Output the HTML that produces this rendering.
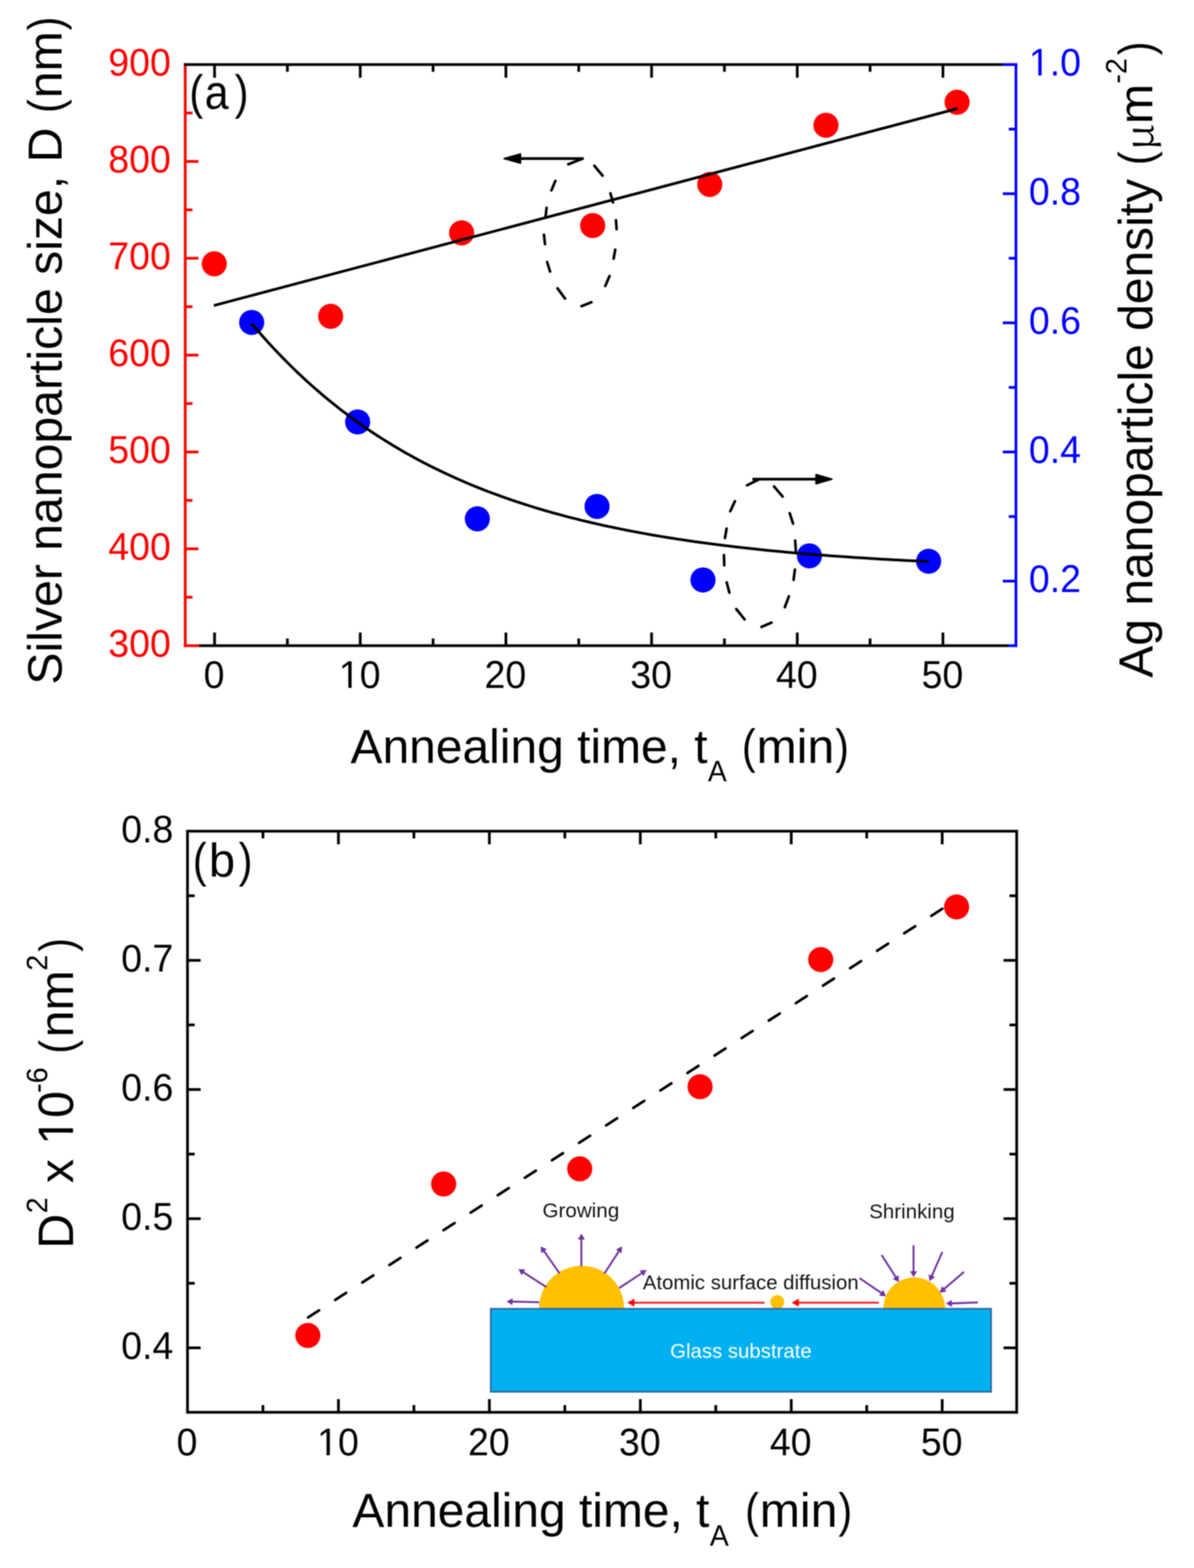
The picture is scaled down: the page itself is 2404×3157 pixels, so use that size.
<!DOCTYPE html>
<html><head><meta charset="utf-8"><title>Silver nanoparticle size and density vs annealing time</title>
<style>html,body{margin:0;padding:0;background:#fff;}svg{display:block;filter:blur(1px);}</style></head>
<body><svg width="2404" height="3157" viewBox="0 0 2404 3157">
<defs><clipPath id="c1_1"><rect x="-1.00" y="-90.60" width="43.99" height="83.36"/><rect x="18.99" y="-90.60" width="6.67" height="113.25"/><rect x="40.99" y="-90.60" width="22.98" height="120.80"/><rect x="61.97" y="-90.60" width="43.99" height="120.80"/></clipPath><clipPath id="c1_2"><rect x="-42.99" y="-90.60" width="43.99" height="83.36"/><rect x="-23.00" y="-90.60" width="6.67" height="113.25"/><rect x="-1.00" y="-90.60" width="43.99" height="120.80"/></clipPath><clipPath id="c1_3"><rect x="-42.99" y="-90.60" width="43.99" height="83.36"/><rect x="-23.00" y="-90.60" width="6.67" height="113.25"/><rect x="-1.00" y="-90.60" width="43.99" height="120.80"/></clipPath><clipPath id="c1_4"><rect x="-1.00" y="-116.40" width="55.95" height="107.55"/><rect x="24.39" y="-116.40" width="8.57" height="145.50"/><rect x="52.95" y="-116.40" width="55.95" height="155.20"/></clipPath></defs>
<rect width="2404" height="3157" fill="#fff"/>
<line x1="432.00" y1="1300.00" x2="432.00" y2="1273.50" stroke="#000000" stroke-width="5.5" />
<line x1="432.00" y1="130.00" x2="432.00" y2="156.50" stroke="#000000" stroke-width="5.5" />
<line x1="578.65" y1="1300.00" x2="578.65" y2="1285.50" stroke="#000000" stroke-width="5.5" />
<line x1="578.65" y1="130.00" x2="578.65" y2="144.50" stroke="#000000" stroke-width="5.5" />
<line x1="725.30" y1="1300.00" x2="725.30" y2="1273.50" stroke="#000000" stroke-width="5.5" />
<line x1="725.30" y1="130.00" x2="725.30" y2="156.50" stroke="#000000" stroke-width="5.5" />
<line x1="871.95" y1="1300.00" x2="871.95" y2="1285.50" stroke="#000000" stroke-width="5.5" />
<line x1="871.95" y1="130.00" x2="871.95" y2="144.50" stroke="#000000" stroke-width="5.5" />
<line x1="1018.60" y1="1300.00" x2="1018.60" y2="1273.50" stroke="#000000" stroke-width="5.5" />
<line x1="1018.60" y1="130.00" x2="1018.60" y2="156.50" stroke="#000000" stroke-width="5.5" />
<line x1="1165.25" y1="1300.00" x2="1165.25" y2="1285.50" stroke="#000000" stroke-width="5.5" />
<line x1="1165.25" y1="130.00" x2="1165.25" y2="144.50" stroke="#000000" stroke-width="5.5" />
<line x1="1311.90" y1="1300.00" x2="1311.90" y2="1273.50" stroke="#000000" stroke-width="5.5" />
<line x1="1311.90" y1="130.00" x2="1311.90" y2="156.50" stroke="#000000" stroke-width="5.5" />
<line x1="1458.55" y1="1300.00" x2="1458.55" y2="1285.50" stroke="#000000" stroke-width="5.5" />
<line x1="1458.55" y1="130.00" x2="1458.55" y2="144.50" stroke="#000000" stroke-width="5.5" />
<line x1="1605.20" y1="1300.00" x2="1605.20" y2="1273.50" stroke="#000000" stroke-width="5.5" />
<line x1="1605.20" y1="130.00" x2="1605.20" y2="156.50" stroke="#000000" stroke-width="5.5" />
<line x1="1751.85" y1="1300.00" x2="1751.85" y2="1285.50" stroke="#000000" stroke-width="5.5" />
<line x1="1751.85" y1="130.00" x2="1751.85" y2="144.50" stroke="#000000" stroke-width="5.5" />
<line x1="1898.50" y1="1300.00" x2="1898.50" y2="1273.50" stroke="#000000" stroke-width="5.5" />
<line x1="1898.50" y1="130.00" x2="1898.50" y2="156.50" stroke="#000000" stroke-width="5.5" />
<line x1="373.00" y1="1202.50" x2="387.50" y2="1202.50" stroke="#FF0000" stroke-width="5.5" />
<line x1="373.00" y1="1105.00" x2="399.50" y2="1105.00" stroke="#FF0000" stroke-width="5.5" />
<line x1="373.00" y1="1007.50" x2="387.50" y2="1007.50" stroke="#FF0000" stroke-width="5.5" />
<line x1="373.00" y1="910.00" x2="399.50" y2="910.00" stroke="#FF0000" stroke-width="5.5" />
<line x1="373.00" y1="812.50" x2="387.50" y2="812.50" stroke="#FF0000" stroke-width="5.5" />
<line x1="373.00" y1="715.00" x2="399.50" y2="715.00" stroke="#FF0000" stroke-width="5.5" />
<line x1="373.00" y1="617.50" x2="387.50" y2="617.50" stroke="#FF0000" stroke-width="5.5" />
<line x1="373.00" y1="520.00" x2="399.50" y2="520.00" stroke="#FF0000" stroke-width="5.5" />
<line x1="373.00" y1="422.50" x2="387.50" y2="422.50" stroke="#FF0000" stroke-width="5.5" />
<line x1="373.00" y1="325.00" x2="399.50" y2="325.00" stroke="#FF0000" stroke-width="5.5" />
<line x1="373.00" y1="227.50" x2="387.50" y2="227.50" stroke="#FF0000" stroke-width="5.5" />
<line x1="2045.50" y1="1170.00" x2="2019.00" y2="1170.00" stroke="#0000FF" stroke-width="5.5" />
<line x1="2045.50" y1="1040.00" x2="2031.00" y2="1040.00" stroke="#0000FF" stroke-width="5.5" />
<line x1="2045.50" y1="910.00" x2="2019.00" y2="910.00" stroke="#0000FF" stroke-width="5.5" />
<line x1="2045.50" y1="780.00" x2="2031.00" y2="780.00" stroke="#0000FF" stroke-width="5.5" />
<line x1="2045.50" y1="650.00" x2="2019.00" y2="650.00" stroke="#0000FF" stroke-width="5.5" />
<line x1="2045.50" y1="520.00" x2="2031.00" y2="520.00" stroke="#0000FF" stroke-width="5.5" />
<line x1="2045.50" y1="390.00" x2="2019.00" y2="390.00" stroke="#0000FF" stroke-width="5.5" />
<line x1="2045.50" y1="260.00" x2="2031.00" y2="260.00" stroke="#0000FF" stroke-width="5.5" />
<line x1="400.00" y1="1300.00" x2="2031.00" y2="1300.00" stroke="#000000" stroke-width="5.5" />
<line x1="370.00" y1="1300.00" x2="401.00" y2="1300.00" stroke="#FF0000" stroke-width="5.5" />
<line x1="2030.00" y1="1300.00" x2="2048.25" y2="1300.00" stroke="#0000FF" stroke-width="5.5" />
<line x1="2018.00" y1="130.00" x2="2048.25" y2="130.00" stroke="#0000FF" stroke-width="5.5" />
<line x1="373.00" y1="127.25" x2="373.00" y2="1302.75" stroke="#FF0000" stroke-width="5.5" />
<line x1="2045.50" y1="127.25" x2="2045.50" y2="1302.75" stroke="#0000FF" stroke-width="5.5" />
<line x1="370.25" y1="130.00" x2="2019.00" y2="130.00" stroke="#000000" stroke-width="5.5" />
<text transform="translate(344.00,1322.30) scale(1,1.035)" x="-125.97" y="0" font-size="75.5" fill="#FF0000" style="font-family:'Liberation Sans',Arial,sans-serif">300</text>
<text transform="translate(344.00,1127.30) scale(1,1.035)" x="-125.97" y="0" font-size="75.5" fill="#FF0000" style="font-family:'Liberation Sans',Arial,sans-serif">400</text>
<text transform="translate(344.00,932.30) scale(1,1.035)" x="-125.97" y="0" font-size="75.5" fill="#FF0000" style="font-family:'Liberation Sans',Arial,sans-serif">500</text>
<text transform="translate(344.00,737.30) scale(1,1.035)" x="-125.97" y="0" font-size="75.5" fill="#FF0000" style="font-family:'Liberation Sans',Arial,sans-serif">600</text>
<text transform="translate(344.00,542.30) scale(1,1.035)" x="-125.97" y="0" font-size="75.5" fill="#FF0000" style="font-family:'Liberation Sans',Arial,sans-serif">700</text>
<text transform="translate(344.00,347.30) scale(1,1.035)" x="-125.97" y="0" font-size="75.5" fill="#FF0000" style="font-family:'Liberation Sans',Arial,sans-serif">800</text>
<text transform="translate(344.00,152.30) scale(1,1.035)" x="-125.97" y="0" font-size="75.5" fill="#FF0000" style="font-family:'Liberation Sans',Arial,sans-serif">900</text>
<text transform="translate(2071.50,1192.30) scale(1,1.035)" x="0.00" y="0" font-size="75.5" fill="#0000FF" style="font-family:'Liberation Sans',Arial,sans-serif">0.2</text>
<text transform="translate(2071.50,932.30) scale(1,1.035)" x="0.00" y="0" font-size="75.5" fill="#0000FF" style="font-family:'Liberation Sans',Arial,sans-serif">0.4</text>
<text transform="translate(2071.50,672.30) scale(1,1.035)" x="0.00" y="0" font-size="75.5" fill="#0000FF" style="font-family:'Liberation Sans',Arial,sans-serif">0.6</text>
<text transform="translate(2071.50,412.30) scale(1,1.035)" x="0.00" y="0" font-size="75.5" fill="#0000FF" style="font-family:'Liberation Sans',Arial,sans-serif">0.8</text>
<text transform="translate(2071.50,152.30) scale(1,1.035)" x="0.00" y="0" font-size="75.5" fill="#0000FF" style="font-family:'Liberation Sans',Arial,sans-serif" clip-path="url(#c1_1)">1.0</text>
<text transform="translate(431.00,1385.00) scale(1,1.035)" x="-20.99" y="0" font-size="75.5" fill="#000000" style="font-family:'Liberation Sans',Arial,sans-serif">0</text>
<text transform="translate(724.30,1385.00) scale(1,1.035)" x="-41.99" y="0" font-size="75.5" fill="#000000" style="font-family:'Liberation Sans',Arial,sans-serif" clip-path="url(#c1_2)">10</text>
<text transform="translate(1017.60,1385.00) scale(1,1.035)" x="-41.99" y="0" font-size="75.5" fill="#000000" style="font-family:'Liberation Sans',Arial,sans-serif">20</text>
<text transform="translate(1310.90,1385.00) scale(1,1.035)" x="-41.99" y="0" font-size="75.5" fill="#000000" style="font-family:'Liberation Sans',Arial,sans-serif">30</text>
<text transform="translate(1604.20,1385.00) scale(1,1.035)" x="-41.99" y="0" font-size="75.5" fill="#000000" style="font-family:'Liberation Sans',Arial,sans-serif">40</text>
<text transform="translate(1897.50,1385.00) scale(1,1.035)" x="-41.99" y="0" font-size="75.5" fill="#000000" style="font-family:'Liberation Sans',Arial,sans-serif">50</text>
<text transform="translate(124.40,1378.40) rotate(-90)" x="0.00" y="0" font-size="97" fill="#000000" style="font-family:'Liberation Sans',Arial,sans-serif">Silver nanoparticle size, D </text>
<text transform="translate(124.40,227.44) rotate(-90) scale(0.86,0.985)" x="0.00" y="0" font-size="97" fill="#000000" style="font-family:'Liberation Sans',Arial,sans-serif">(</text>
<text transform="translate(124.40,197.78) rotate(-90)" x="0.00" y="0" font-size="97" fill="#000000" style="font-family:'Liberation Sans',Arial,sans-serif">nm</text>
<text transform="translate(124.40,61.15) rotate(-90) scale(0.86,0.985)" x="0.00" y="0" font-size="97" fill="#000000" style="font-family:'Liberation Sans',Arial,sans-serif">)</text>
<text transform="translate(2320.40,1364.39) rotate(-90)" x="0.00" y="0" font-size="96.6" fill="#000000" style="font-family:'Liberation Sans',Arial,sans-serif">Ag nanoparticle density</text>
<text transform="translate(2320.40,332.57) rotate(-90) scale(0.86,0.985)" x="0.00" y="0" font-size="97" fill="#000000" style="font-family:'Liberation Sans',Arial,sans-serif">(</text>
<text transform="translate(2322.40,302.83) rotate(-90) scale(1,0.93)" x="0.00" y="0" font-size="84" fill="#000000" style="font-family:'Noto Serif CJK SC','Liberation Serif',serif">μ</text>
<text transform="translate(2320.40,249.64) rotate(-90)" x="0.00" y="0" font-size="97" fill="#000000" style="font-family:'Liberation Sans',Arial,sans-serif">m</text>
<text transform="translate(2268.00,168.58) rotate(-90) scale(1,1.035)" x="0.00" y="0" font-size="58" fill="#000000" style="font-family:'Liberation Sans',Arial,sans-serif">-2</text>
<text transform="translate(2320.40,111.29) rotate(-90) scale(0.86,0.985)" x="0.00" y="0" font-size="97" fill="#000000" style="font-family:'Liberation Sans',Arial,sans-serif">)</text>
<text transform="translate(705.81,1535.50)" x="0.00" y="0" font-size="96.5" fill="#000000" style="font-family:'Liberation Sans',Arial,sans-serif">Annealing time, t</text>
<text transform="translate(1425.19,1572.60) scale(1,1.04)" x="0.00" y="0" font-size="57" fill="#000000" style="font-family:'Liberation Sans',Arial,sans-serif">A</text>
<text transform="translate(1493.63,1535.50) scale(0.86,0.985)" x="0.00" y="0" font-size="97" fill="#000000" style="font-family:'Liberation Sans',Arial,sans-serif">(</text>
<text transform="translate(1523.29,1535.50)" x="0.00" y="0" font-size="97" fill="#000000" style="font-family:'Liberation Sans',Arial,sans-serif">min</text>
<text transform="translate(1681.47,1535.50) scale(0.86,0.985)" x="0.00" y="0" font-size="97" fill="#000000" style="font-family:'Liberation Sans',Arial,sans-serif">)</text>
<text transform="translate(381.13,218.50) scale(0.86,0.985)" x="0.00" y="0" font-size="97" fill="#000000" style="font-family:'Liberation Sans',Arial,sans-serif">(</text>
<text transform="translate(412.13,218.50) scale(0.9,1)" x="0.00" y="0" font-size="96" fill="#000000" style="font-family:'Liberation Sans',Arial,sans-serif">a</text>
<text transform="translate(472.51,218.50) scale(0.86,0.985)" x="0.00" y="0" font-size="97" fill="#000000" style="font-family:'Liberation Sans',Arial,sans-serif">)</text>
<circle cx="431.40" cy="531.10" r="25.3" fill="#FF0000"/>
<circle cx="665.75" cy="636.90" r="25.3" fill="#FF0000"/>
<circle cx="929.40" cy="468.90" r="25.3" fill="#FF0000"/>
<circle cx="1193.30" cy="454.20" r="25.3" fill="#FF0000"/>
<circle cx="1429.00" cy="371.40" r="25.3" fill="#FF0000"/>
<circle cx="1663.00" cy="252.20" r="25.3" fill="#FF0000"/>
<circle cx="1927.00" cy="205.80" r="25.3" fill="#FF0000"/>
<circle cx="506.70" cy="649.20" r="25.3" fill="#0000FF"/>
<circle cx="720.10" cy="849.50" r="25.3" fill="#0000FF"/>
<circle cx="961.10" cy="1044.60" r="25.3" fill="#0000FF"/>
<circle cx="1202.10" cy="1019.70" r="25.3" fill="#0000FF"/>
<circle cx="1415.40" cy="1167.70" r="25.3" fill="#0000FF"/>
<circle cx="1629.70" cy="1119.20" r="25.3" fill="#0000FF"/>
<circle cx="1869.70" cy="1130.00" r="25.3" fill="#0000FF"/>
<line x1="430.60" y1="615.10" x2="1928.10" y2="218.50" stroke="#000000" stroke-width="5.5" />
<polyline fill="none" stroke="#000" stroke-width="5.5" stroke-linejoin="round" points="506.7,651.4 518.2,664.8 529.6,677.9 541.1,690.6 552.5,703.0 564.0,715.0 575.4,726.7 586.9,738.1 598.3,749.2 609.8,760.0 621.2,770.5 632.7,780.7 644.1,790.6 655.6,800.3 667.0,809.7 678.5,818.8 689.9,827.8 701.4,836.4 712.8,844.9 724.3,853.1 735.7,861.1 747.2,868.9 758.6,876.4 770.1,883.8 781.6,890.9 793.0,897.9 804.5,904.7 815.9,911.3 827.4,917.7 838.8,924.0 850.3,930.1 861.7,936.0 873.2,941.7 884.6,947.3 896.1,952.8 907.5,958.1 919.0,963.3 930.4,968.3 941.9,973.2 953.3,978.0 964.8,982.6 976.2,987.1 987.7,991.5 999.1,995.7 1010.6,999.9 1022.0,1003.9 1033.5,1007.9 1044.9,1011.7 1056.4,1015.4 1067.9,1019.0 1079.3,1022.6 1090.8,1026.0 1102.2,1029.3 1113.7,1032.6 1125.1,1035.7 1136.6,1038.8 1148.0,1041.8 1159.5,1044.7 1170.9,1047.6 1182.4,1050.3 1193.8,1053.0 1205.3,1055.6 1216.7,1058.2 1228.2,1060.6 1239.6,1063.0 1251.1,1065.4 1262.5,1067.7 1274.0,1069.9 1285.4,1072.0 1296.9,1074.1 1308.3,1076.2 1319.8,1078.2 1331.3,1080.1 1342.7,1082.0 1354.2,1083.8 1365.6,1085.6 1377.1,1087.3 1388.5,1089.0 1400.0,1090.7 1411.4,1092.3 1422.9,1093.8 1434.3,1095.3 1445.8,1096.8 1457.2,1098.2 1468.7,1099.6 1480.1,1101.0 1491.6,1102.3 1503.0,1103.6 1514.5,1104.8 1525.9,1106.0 1537.4,1107.2 1548.8,1108.4 1560.3,1109.5 1571.7,1110.6 1583.2,1111.7 1594.6,1112.7 1606.1,1113.7 1617.6,1114.7 1629.0,1115.6 1640.5,1116.6 1651.9,1117.5 1663.4,1118.3 1674.8,1119.2 1686.3,1120.0 1697.7,1120.8 1709.2,1121.6 1720.6,1122.4 1732.1,1123.1 1743.5,1123.8 1755.0,1124.6 1766.4,1125.2 1777.9,1125.9 1789.3,1126.6 1800.8,1127.2 1812.2,1127.8 1823.7,1128.4 1835.1,1129.0 1846.6,1129.5 1858.0,1130.1 1869.5,1130.6"/>
<line x1="1196.69" y1="333.74" x2="1213.31" y2="353.76" stroke="#000000" stroke-width="5.3" stroke-linecap="round"/>
<line x1="1229.03" y1="389.25" x2="1234.27" y2="407.45" stroke="#000000" stroke-width="5.3" stroke-linecap="round"/>
<line x1="1240.19" y1="443.44" x2="1241.51" y2="461.56" stroke="#000000" stroke-width="5.3" stroke-linecap="round"/>
<line x1="1238.73" y1="502.61" x2="1235.47" y2="520.69" stroke="#000000" stroke-width="5.3" stroke-linecap="round"/>
<line x1="1227.25" y1="555.73" x2="1218.55" y2="575.87" stroke="#000000" stroke-width="5.3" stroke-linecap="round"/>
<line x1="1190.84" y1="608.48" x2="1170.76" y2="616.52" stroke="#000000" stroke-width="5.3" stroke-linecap="round"/>
<line x1="1137.63" y1="601.17" x2="1122.37" y2="580.43" stroke="#000000" stroke-width="5.3" stroke-linecap="round"/>
<line x1="1107.52" y1="546.67" x2="1101.58" y2="527.53" stroke="#000000" stroke-width="5.3" stroke-linecap="round"/>
<line x1="1097.23" y1="491.56" x2="1095.27" y2="472.64" stroke="#000000" stroke-width="5.3" stroke-linecap="round"/>
<line x1="1098.60" y1="434.87" x2="1100.50" y2="418.43" stroke="#000000" stroke-width="5.3" stroke-linecap="round"/>
<line x1="1110.22" y1="383.35" x2="1118.18" y2="364.15" stroke="#000000" stroke-width="5.3" stroke-linecap="round"/>
<line x1="1558.43" y1="979.51" x2="1575.77" y2="999.69" stroke="#000000" stroke-width="5.3" stroke-linecap="round"/>
<line x1="1590.01" y1="1033.32" x2="1596.69" y2="1054.18" stroke="#000000" stroke-width="5.3" stroke-linecap="round"/>
<line x1="1600.97" y1="1088.44" x2="1602.33" y2="1109.06" stroke="#000000" stroke-width="5.3" stroke-linecap="round"/>
<line x1="1600.46" y1="1146.83" x2="1597.84" y2="1167.37" stroke="#000000" stroke-width="5.3" stroke-linecap="round"/>
<line x1="1588.27" y1="1200.78" x2="1580.13" y2="1222.52" stroke="#000000" stroke-width="5.3" stroke-linecap="round"/>
<line x1="1553.37" y1="1253.55" x2="1533.23" y2="1262.25" stroke="#000000" stroke-width="5.3" stroke-linecap="round"/>
<line x1="1499.14" y1="1247.13" x2="1482.46" y2="1226.27" stroke="#000000" stroke-width="5.3" stroke-linecap="round"/>
<line x1="1468.53" y1="1193.24" x2="1463.17" y2="1172.56" stroke="#000000" stroke-width="5.3" stroke-linecap="round"/>
<line x1="1458.22" y1="1138.15" x2="1457.58" y2="1117.65" stroke="#000000" stroke-width="5.3" stroke-linecap="round"/>
<line x1="1459.64" y1="1083.19" x2="1462.86" y2="1064.31" stroke="#000000" stroke-width="5.3" stroke-linecap="round"/>
<line x1="1470.32" y1="1029.30" x2="1479.68" y2="1009.10" stroke="#000000" stroke-width="5.3" stroke-linecap="round"/>
<line x1="1144.16" y1="330.73" x2="1173.30" y2="319.20" stroke="#000000" stroke-width="5.3" stroke-linecap="round"/>
<line x1="1504.07" y1="977.11" x2="1526.70" y2="965.80" stroke="#000000" stroke-width="5.3" stroke-linecap="round"/>
<line x1="1173.30" y1="319.20" x2="1040.00" y2="319.20" stroke="#000000" stroke-width="5.5" />
<polygon points="1048,310 1048,328.5 1015,319.2" fill="#000" stroke="#000" stroke-width="3" stroke-linejoin="round"/>
<line x1="1515.00" y1="964.80" x2="1650.00" y2="964.80" stroke="#000000" stroke-width="5.5" />
<polygon points="1643,955.5 1643,974 1675,964.8" fill="#000" stroke="#000" stroke-width="3" stroke-linejoin="round"/>
<line x1="529.45" y1="2843.50" x2="529.45" y2="2829.00" stroke="#000000" stroke-width="5.5" />
<line x1="529.45" y1="1673.50" x2="529.45" y2="1688.00" stroke="#000000" stroke-width="5.5" />
<line x1="681.40" y1="2843.50" x2="681.40" y2="2817.00" stroke="#000000" stroke-width="5.5" />
<line x1="681.40" y1="1673.50" x2="681.40" y2="1700.00" stroke="#000000" stroke-width="5.5" />
<line x1="833.35" y1="2843.50" x2="833.35" y2="2829.00" stroke="#000000" stroke-width="5.5" />
<line x1="833.35" y1="1673.50" x2="833.35" y2="1688.00" stroke="#000000" stroke-width="5.5" />
<line x1="985.30" y1="2843.50" x2="985.30" y2="2817.00" stroke="#000000" stroke-width="5.5" />
<line x1="985.30" y1="1673.50" x2="985.30" y2="1700.00" stroke="#000000" stroke-width="5.5" />
<line x1="1137.25" y1="2843.50" x2="1137.25" y2="2829.00" stroke="#000000" stroke-width="5.5" />
<line x1="1137.25" y1="1673.50" x2="1137.25" y2="1688.00" stroke="#000000" stroke-width="5.5" />
<line x1="1289.20" y1="2843.50" x2="1289.20" y2="2817.00" stroke="#000000" stroke-width="5.5" />
<line x1="1289.20" y1="1673.50" x2="1289.20" y2="1700.00" stroke="#000000" stroke-width="5.5" />
<line x1="1441.15" y1="2843.50" x2="1441.15" y2="2829.00" stroke="#000000" stroke-width="5.5" />
<line x1="1441.15" y1="1673.50" x2="1441.15" y2="1688.00" stroke="#000000" stroke-width="5.5" />
<line x1="1593.10" y1="2843.50" x2="1593.10" y2="2817.00" stroke="#000000" stroke-width="5.5" />
<line x1="1593.10" y1="1673.50" x2="1593.10" y2="1700.00" stroke="#000000" stroke-width="5.5" />
<line x1="1745.05" y1="2843.50" x2="1745.05" y2="2829.00" stroke="#000000" stroke-width="5.5" />
<line x1="1745.05" y1="1673.50" x2="1745.05" y2="1688.00" stroke="#000000" stroke-width="5.5" />
<line x1="1897.00" y1="2843.50" x2="1897.00" y2="2817.00" stroke="#000000" stroke-width="5.5" />
<line x1="1897.00" y1="1673.50" x2="1897.00" y2="1700.00" stroke="#000000" stroke-width="5.5" />
<line x1="377.50" y1="2713.74" x2="404.00" y2="2713.74" stroke="#000000" stroke-width="5.5" />
<line x1="2047.00" y1="2713.74" x2="2020.50" y2="2713.74" stroke="#000000" stroke-width="5.5" />
<line x1="377.50" y1="2583.71" x2="392.00" y2="2583.71" stroke="#000000" stroke-width="5.5" />
<line x1="2047.00" y1="2583.71" x2="2032.50" y2="2583.71" stroke="#000000" stroke-width="5.5" />
<line x1="377.50" y1="2453.68" x2="404.00" y2="2453.68" stroke="#000000" stroke-width="5.5" />
<line x1="2047.00" y1="2453.68" x2="2020.50" y2="2453.68" stroke="#000000" stroke-width="5.5" />
<line x1="377.50" y1="2323.65" x2="392.00" y2="2323.65" stroke="#000000" stroke-width="5.5" />
<line x1="2047.00" y1="2323.65" x2="2032.50" y2="2323.65" stroke="#000000" stroke-width="5.5" />
<line x1="377.50" y1="2193.62" x2="404.00" y2="2193.62" stroke="#000000" stroke-width="5.5" />
<line x1="2047.00" y1="2193.62" x2="2020.50" y2="2193.62" stroke="#000000" stroke-width="5.5" />
<line x1="377.50" y1="2063.59" x2="392.00" y2="2063.59" stroke="#000000" stroke-width="5.5" />
<line x1="2047.00" y1="2063.59" x2="2032.50" y2="2063.59" stroke="#000000" stroke-width="5.5" />
<line x1="377.50" y1="1933.56" x2="404.00" y2="1933.56" stroke="#000000" stroke-width="5.5" />
<line x1="2047.00" y1="1933.56" x2="2020.50" y2="1933.56" stroke="#000000" stroke-width="5.5" />
<line x1="377.50" y1="1803.53" x2="392.00" y2="1803.53" stroke="#000000" stroke-width="5.5" />
<line x1="2047.00" y1="1803.53" x2="2032.50" y2="1803.53" stroke="#000000" stroke-width="5.5" />
<rect x="377.5" y="1673.5" width="1669.5" height="1170.0" fill="none" stroke="#000" stroke-width="5.5"/>
<text transform="translate(349.00,2736.04) scale(1,1.035)" x="-104.96" y="0" font-size="75.5" fill="#000000" style="font-family:'Liberation Sans',Arial,sans-serif">0.4</text>
<text transform="translate(349.00,2475.98) scale(1,1.035)" x="-104.96" y="0" font-size="75.5" fill="#000000" style="font-family:'Liberation Sans',Arial,sans-serif">0.5</text>
<text transform="translate(349.00,2215.92) scale(1,1.035)" x="-104.96" y="0" font-size="75.5" fill="#000000" style="font-family:'Liberation Sans',Arial,sans-serif">0.6</text>
<text transform="translate(349.00,1955.86) scale(1,1.035)" x="-104.96" y="0" font-size="75.5" fill="#000000" style="font-family:'Liberation Sans',Arial,sans-serif">0.7</text>
<text transform="translate(349.00,1695.80) scale(1,1.035)" x="-104.96" y="0" font-size="75.5" fill="#000000" style="font-family:'Liberation Sans',Arial,sans-serif">0.8</text>
<text transform="translate(376.50,2930.30) scale(1,1.035)" x="-20.99" y="0" font-size="75.5" fill="#000000" style="font-family:'Liberation Sans',Arial,sans-serif">0</text>
<text transform="translate(680.40,2930.30) scale(1,1.035)" x="-41.99" y="0" font-size="75.5" fill="#000000" style="font-family:'Liberation Sans',Arial,sans-serif" clip-path="url(#c1_3)">10</text>
<text transform="translate(984.30,2930.30) scale(1,1.035)" x="-41.99" y="0" font-size="75.5" fill="#000000" style="font-family:'Liberation Sans',Arial,sans-serif">20</text>
<text transform="translate(1288.20,2930.30) scale(1,1.035)" x="-41.99" y="0" font-size="75.5" fill="#000000" style="font-family:'Liberation Sans',Arial,sans-serif">30</text>
<text transform="translate(1592.10,2930.30) scale(1,1.035)" x="-41.99" y="0" font-size="75.5" fill="#000000" style="font-family:'Liberation Sans',Arial,sans-serif">40</text>
<text transform="translate(1896.00,2930.30) scale(1,1.035)" x="-41.99" y="0" font-size="75.5" fill="#000000" style="font-family:'Liberation Sans',Arial,sans-serif">50</text>
<text transform="translate(709.61,3074.00)" x="0.00" y="0" font-size="96.5" fill="#000000" style="font-family:'Liberation Sans',Arial,sans-serif">Annealing time, t</text>
<text transform="translate(1429.19,3111.50) scale(1,1.04)" x="0.00" y="0" font-size="57" fill="#000000" style="font-family:'Liberation Sans',Arial,sans-serif">A</text>
<text transform="translate(1500.13,3074.00) scale(0.86,0.985)" x="0.00" y="0" font-size="97" fill="#000000" style="font-family:'Liberation Sans',Arial,sans-serif">(</text>
<text transform="translate(1529.79,3074.00)" x="0.00" y="0" font-size="97" fill="#000000" style="font-family:'Liberation Sans',Arial,sans-serif">min</text>
<text transform="translate(1687.97,3074.00) scale(0.86,0.985)" x="0.00" y="0" font-size="97" fill="#000000" style="font-family:'Liberation Sans',Arial,sans-serif">)</text>
<text transform="translate(147.00,2514.06) rotate(-90) scale(1,1.04)" x="0.00" y="0" font-size="97" fill="#000000" style="font-family:'Liberation Sans',Arial,sans-serif">D</text>
<text transform="translate(94.60,2442.92) rotate(-90) scale(1,1.035)" x="0.00" y="0" font-size="58" fill="#000000" style="font-family:'Liberation Sans',Arial,sans-serif">2</text>
<text transform="translate(147.00,2382.09) rotate(-90)" x="0.00" y="0" font-size="97" fill="#000000" style="font-family:'Liberation Sans',Arial,sans-serif">x</text>
<text transform="translate(147.00,2304.79) rotate(-90) scale(1,1.035)" x="0.00" y="0" font-size="97" fill="#000000" style="font-family:'Liberation Sans',Arial,sans-serif" clip-path="url(#c1_4)">10</text>
<text transform="translate(94.60,2200.48) rotate(-90) scale(1,1.035)" x="0.00" y="0" font-size="58" fill="#000000" style="font-family:'Liberation Sans',Arial,sans-serif">-6</text>
<text transform="translate(147.00,2121.57) rotate(-90) scale(0.86,0.985)" x="0.00" y="0" font-size="97" fill="#000000" style="font-family:'Liberation Sans',Arial,sans-serif">(</text>
<text transform="translate(147.00,2088.44) rotate(-90)" x="0.00" y="0" font-size="97" fill="#000000" style="font-family:'Liberation Sans',Arial,sans-serif">nm</text>
<text transform="translate(94.60,1954.42) rotate(-90) scale(1,1.035)" x="0.00" y="0" font-size="58" fill="#000000" style="font-family:'Liberation Sans',Arial,sans-serif">2</text>
<text transform="translate(147.00,1916.29) rotate(-90) scale(0.86,0.985)" x="0.00" y="0" font-size="97" fill="#000000" style="font-family:'Liberation Sans',Arial,sans-serif">)</text>
<text transform="translate(388.13,1765.00) scale(0.86,0.985)" x="0.00" y="0" font-size="97" fill="#000000" style="font-family:'Liberation Sans',Arial,sans-serif">(</text>
<text transform="translate(420.38,1765.00)" x="0.00" y="0" font-size="95" fill="#000000" style="font-family:'Liberation Sans',Arial,sans-serif">b</text>
<text transform="translate(480.51,1765.00) scale(0.86,0.985)" x="0.00" y="0" font-size="97" fill="#000000" style="font-family:'Liberation Sans',Arial,sans-serif">)</text>
<line x1="620.37" y1="2652.44" x2="1898.75" y2="1828.75" stroke="#000" stroke-width="5.4" stroke-linecap="round" stroke-dasharray="26.2 38.7"/>
<circle cx="619.80" cy="2688.80" r="25.3" fill="#FF0000"/>
<circle cx="893.20" cy="2383.80" r="25.3" fill="#FF0000"/>
<circle cx="1167.20" cy="2353.30" r="25.3" fill="#FF0000"/>
<circle cx="1409.50" cy="2188.00" r="25.3" fill="#FF0000"/>
<circle cx="1652.50" cy="1932.00" r="25.3" fill="#FF0000"/>
<circle cx="1926.00" cy="1826.00" r="25.3" fill="#FF0000"/>
<path d="M1085.5,2634 A85.5,85.5 0 0 1 1256.5,2634 Z" fill="#FFC000"/>
<path d="M1778.6,2634 A62,62 0 0 1 1902.6,2634 Z" fill="#FFC000"/>
<circle cx="1565" cy="2621.5" r="14" fill="#FFC000"/>
<rect x="988" y="2635" width="1007.5" height="167.3" fill="#00B0F0" stroke="#2F5F97" stroke-width="3"/>
<line x1="1170.50" y1="2549.50" x2="1170.50" y2="2493.80" stroke="#7030A0" stroke-width="3.8" />
<polygon points="1170.5,2483.8 1177.5,2495.8 1163.5,2495.8" fill="#7030A0"/>
<line x1="1126.70" y1="2563.80" x2="1094.34" y2="2517.69" stroke="#7030A0" stroke-width="3.8" />
<polygon points="1088.6,2509.5 1101.2,2515.3 1089.8,2523.3" fill="#7030A0"/>
<line x1="1217.10" y1="2563.80" x2="1246.95" y2="2517.88" stroke="#7030A0" stroke-width="3.8" />
<polygon points="1252.4,2509.5 1251.7,2523.4 1240.0,2515.7" fill="#7030A0"/>
<line x1="1100.00" y1="2591.40" x2="1052.21" y2="2560.62" stroke="#7030A0" stroke-width="3.8" />
<polygon points="1043.8,2555.2 1057.7,2555.8 1050.1,2567.6" fill="#7030A0"/>
<line x1="1246.70" y1="2593.30" x2="1293.45" y2="2562.50" stroke="#7030A0" stroke-width="3.8" />
<polygon points="1301.8,2557.0 1295.6,2569.4 1287.9,2557.8" fill="#7030A0"/>
<line x1="1085.70" y1="2621.90" x2="1030.00" y2="2620.63" stroke="#7030A0" stroke-width="3.8" />
<polygon points="1020.0,2620.4 1032.2,2613.7 1031.8,2627.7" fill="#7030A0"/>
<line x1="1839.30" y1="2507.10" x2="1839.30" y2="2561.40" stroke="#7030A0" stroke-width="3.8" />
<polygon points="1839.3,2571.4 1832.3,2559.4 1846.3,2559.4" fill="#7030A0"/>
<line x1="1775.00" y1="2526.80" x2="1804.41" y2="2572.82" stroke="#7030A0" stroke-width="3.8" />
<polygon points="1809.8,2581.2 1797.4,2574.9 1809.2,2567.4" fill="#7030A0"/>
<line x1="1897.30" y1="2520.50" x2="1875.42" y2="2570.34" stroke="#7030A0" stroke-width="3.8" />
<polygon points="1871.4,2579.5 1869.8,2565.7 1882.6,2571.3" fill="#7030A0"/>
<line x1="1730.40" y1="2573.20" x2="1775.65" y2="2604.15" stroke="#7030A0" stroke-width="3.8" />
<polygon points="1783.9,2609.8 1770.0,2608.8 1777.9,2597.2" fill="#7030A0"/>
<line x1="1941.00" y1="2560.70" x2="1899.59" y2="2596.19" stroke="#7030A0" stroke-width="3.8" />
<polygon points="1892.0,2602.7 1896.6,2589.6 1905.7,2600.2" fill="#7030A0"/>
<line x1="1968.75" y1="2622.30" x2="1914.49" y2="2624.24" stroke="#7030A0" stroke-width="3.8" />
<polygon points="1904.5,2624.6 1916.2,2617.2 1916.7,2631.2" fill="#7030A0"/>
<line x1="1539.30" y1="2622.80" x2="1272.90" y2="2622.80" stroke="#FF0000" stroke-width="3.2" />
<polygon points="1262.9,2622.8 1277.4,2614.8 1277.4,2630.8" fill="#FF0000"/>
<line x1="1769.10" y1="2622.80" x2="1604.00" y2="2622.80" stroke="#FF0000" stroke-width="3.2" />
<polygon points="1594.0,2622.8 1608.5,2614.8 1608.5,2630.8" fill="#FF0000"/>
<text transform="translate(1092.21,2450.50)" x="0.00" y="0" font-size="41.5" fill="#141414" style="font-family:'Liberation Sans',Arial,sans-serif">Growing</text>
<text transform="translate(1750.02,2452.70)" x="0.00" y="0" font-size="41.3" fill="#141414" style="font-family:'Liberation Sans',Arial,sans-serif">Shrinking</text>
<text transform="translate(1294.32,2596.40)" x="0.00" y="0" font-size="41" fill="#141414" style="font-family:'Liberation Sans',Arial,sans-serif">Atomic surface diffusion</text>
<text transform="translate(1349.34,2733.60)" x="0.00" y="0" font-size="41" fill="#FFFFFF" style="font-family:'Liberation Sans',Arial,sans-serif">Glass substrate</text>
</svg></body></html>
